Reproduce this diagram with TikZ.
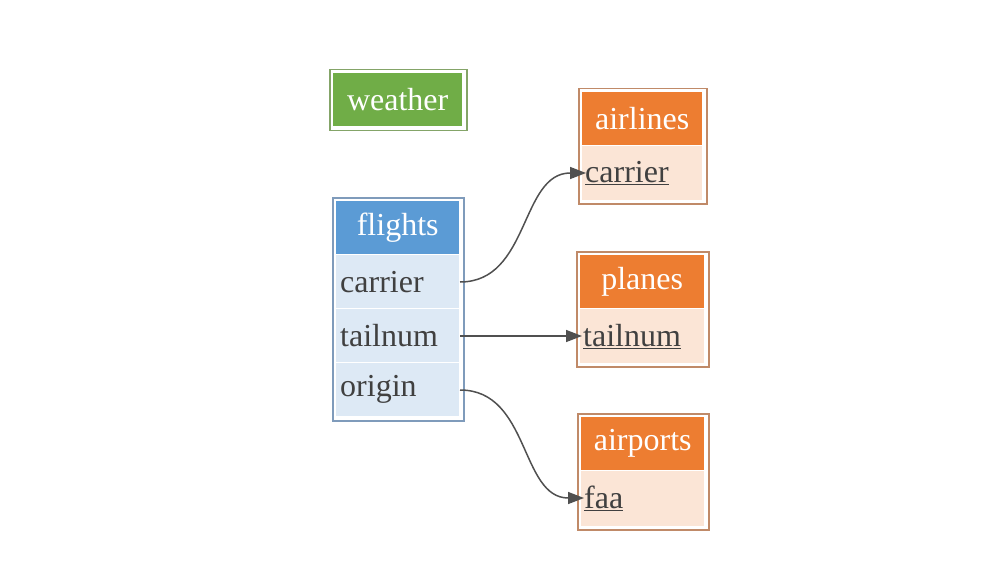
\documentclass[tikz,border=0pt]{standalone}
\usepackage{fontspec}
\setmainfont{Liberation Serif}
\usetikzlibrary{arrows.meta}
\definecolor{bluebd}{HTML}{7F9BBB}
\definecolor{bluehd}{HTML}{5B9BD5}
\definecolor{bluerow}{HTML}{DDE9F5}
\definecolor{orbd}{HTML}{C08A68}
\definecolor{orhd}{HTML}{ED7D31}
\definecolor{orrow}{HTML}{FBE5D6}
\definecolor{grbd}{HTML}{84A468}
\definecolor{grhd}{HTML}{70AD47}
\definecolor{txt}{HTML}{404040}
\definecolor{edge}{HTML}{505050}
\begin{document}
\begin{tikzpicture}[x=1pt,y=-1pt,
  frame/.style={draw=#1,line width=1.5pt,fill=white,inner sep=0pt,anchor=north west},
  cell/.style={fill=#1,inner sep=0pt,anchor=north west,font=\fontsize{32}{36}\selectfont},
  hd/.style={text=white},
  rw/.style={text=txt},
  conn/.style={draw=edge,line width=1.5pt,-{Triangle[length=16pt,width=12pt]}}]
\useasboundingbox (0,0) rectangle (1000,580);
% weather
\node[frame=grbd,minimum width=137pt,minimum height=61pt] (wf) at (329,69) {};
\node[cell=grhd,hd,minimum width=129pt,minimum height=53pt] (w) at (333,73) {weather};
% flights
\node[frame=bluebd,minimum width=131pt,minimum height=223pt] (ff) at (332,197) {};
\node[cell=bluehd,hd,minimum width=123pt,minimum height=53pt] (fh) at (336,201) {flights};
\node[cell=bluerow,rw,minimum width=123pt,minimum height=53pt,text width=115pt,align=left] (fc) at (336,255) {carrier};
\node[cell=bluerow,rw,minimum width=123pt,minimum height=53pt,text width=115pt,align=left] (ft) at (336,309) {tailnum};
\node[cell=bluerow,rw,minimum width=123pt,minimum height=53pt,text width=115pt,align=left] (fo) at (336,363) {origin};
% airlines
\node[frame=orbd,minimum width=128pt,minimum height=115pt] (af) at (578,88) {};
\node[cell=orhd,hd,minimum width=120pt,minimum height=53pt] (ah) at (582,92) {airlines};
\node[cell=orrow,rw,minimum width=120pt,minimum height=54pt,text width=114pt,align=left] (ac) at (582,146) {\underline{carrier}};
% planes
\node[frame=orbd,minimum width=132pt,minimum height=115pt] (pf) at (576,251) {};
\node[cell=orhd,hd,minimum width=124pt,minimum height=53pt] (ph) at (580,255) {planes};
\node[cell=orrow,rw,minimum width=124pt,minimum height=54pt,text width=118pt,align=left] (pt) at (580,309) {\underline{tailnum}};
% airports
\node[frame=orbd,minimum width=131pt,minimum height=116pt] (apf) at (577,413) {};
\node[cell=orhd,hd,minimum width=123pt,minimum height=53pt] (aph) at (581,417) {airports};
\node[cell=orrow,rw,minimum width=123pt,minimum height=55pt,text width=117pt,align=left] (apa) at (581,471) {\underline{faa}};
% edges
\coordinate (c1) at (460,282); \coordinate (c2) at (586,173);
\coordinate (t1) at (460,336); \coordinate (t2) at (582,336);
\coordinate (o1) at (460,390); \coordinate (o2) at (584,498);
\draw[conn] (c1) .. controls (530,282) and (520,173) .. (c2);
\draw[conn] (t1) -- (t2);
\draw[conn] (o1) .. controls (530,390) and (520,498) .. (o2);
\end{tikzpicture}
\end{document}
